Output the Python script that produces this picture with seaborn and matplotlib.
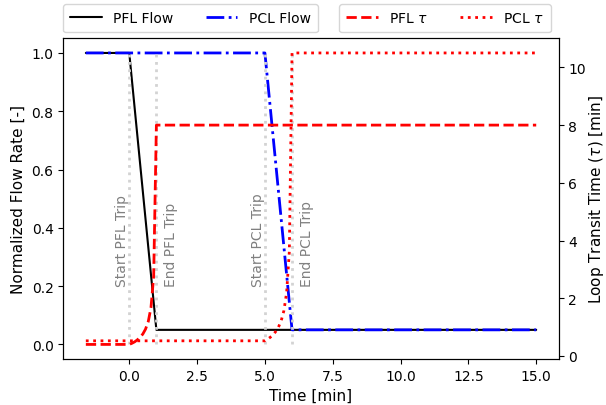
import matplotlib
matplotlib.use("Agg")
import matplotlib.pyplot as plt
import seaborn as sns

# Flow coast-down transients (normalized flow vs. time in minutes)
pfl_flow_t = [-1.6, 0.0, 1.0, 15.0]
pfl_flow_q = [1.0, 1.0, 0.05, 0.05]
pcl_flow_t = [-1.6, 5.0, 6.0, 15.0]
pcl_flow_q = [1.0, 1.0, 0.05, 0.05]

# Loop transit times [min]
pfl_tau_t = [-1.6, 0.0, 0.1, 0.2, 0.3, 0.4, 0.5, 0.6, 0.7, 0.8, 0.9, 1.0, 15.0]
pfl_tau_v = [0.40, 0.40, 0.44, 0.49, 0.56, 0.65, 0.76, 0.93, 1.19, 1.67, 2.76, 8.0, 8.0]
pcl_tau_t = [-1.6, 5.0, 5.1, 5.2, 5.3, 5.4, 5.5, 5.6, 5.7, 5.8, 5.9, 6.0, 15.0]
pcl_tau_v = [0.525, 0.525, 0.58, 0.65, 0.73, 0.85, 1.0, 1.22, 1.57, 2.19, 3.62, 10.5, 10.5]

# Trip event markers
event_times = [0.0, 1.0, 5.0, 6.0]
event_labels = ["Start PFL Trip", "End PFL Trip", "Start PCL Trip", "End PCL Trip"]
event_offsets = [-0.25, 0.55, -0.25, 0.55]

sns.set_style("ticks", rc={
    "axes.edgecolor": "black",
    "xtick.color": "black",
    "ytick.color": "black",
    "text.color": "black",
    "axes.labelcolor": "black",
})
plt.rcParams["font.family"] = ["DejaVu Sans"]
plt.rcParams["font.size"] = 10
plt.rcParams["axes.labelsize"] = 11

fig = plt.figure(figsize=(6.06, 4.06), dpi=100)
ax = fig.add_axes([0.1045, 0.1133, 0.922 - 0.1045, 0.903 - 0.1133])
ax2 = ax.twinx()

sns.lineplot(x=pfl_flow_t, y=pfl_flow_q, ax=ax, color="black", linewidth=1.5,
             linestyle="-", label="PFL Flow", legend=False)
sns.lineplot(x=pcl_flow_t, y=pcl_flow_q, ax=ax, color="blue", linewidth=2,
             linestyle="-.", label="PCL Flow", legend=False)

ax.vlines(event_times, 0, 1, colors="lightgray", linestyles=":", linewidth=2)
for t, lab, off in zip(event_times, event_labels, event_offsets):
    ax.text(t + off, 0.2, lab, rotation=90, ha="center", va="bottom",
            color="gray", fontsize=10)

sns.lineplot(x=pfl_tau_t, y=pfl_tau_v, ax=ax2, color="red", linewidth=2,
             linestyle="--", label=r"PFL $\tau$", legend=False)
sns.lineplot(x=pcl_tau_t, y=pcl_tau_v, ax=ax2, color="red", linewidth=2,
             linestyle=":", label=r"PCL $\tau$", legend=False)

ax.set_xlabel("Time [min]")
ax.set_ylabel("Normalized Flow Rate [-]")
ax2.set_ylabel(r"Loop Transit Time ($\tau$) [min]", labelpad=0.5)
ax.set_yticks([0.0, 0.2, 0.4, 0.6, 0.8, 1.0])
ax2.set_yticks([0, 2, 4, 6, 8, 10])

h1, l1 = ax.get_legend_handles_labels()
h2, l2 = ax2.get_legend_handles_labels()
leg_kw = dict(ncol=2, borderaxespad=0, handlelength=2.3, columnspacing=2.3,
              borderpad=0.5, bbox_transform=fig.transFigure, fontsize=10)
ax.legend(h1, l1, loc="lower left", bbox_to_anchor=(0.1045, 0.918), **leg_kw)
ax2.legend(h2, l2, loc="lower right", bbox_to_anchor=(0.909, 0.918), **leg_kw)

fig.savefig("out.png", dpi=100)
